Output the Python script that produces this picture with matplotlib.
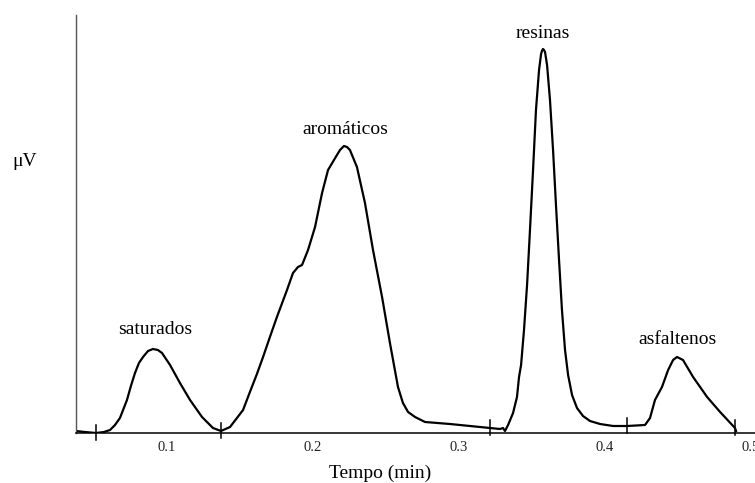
import matplotlib
matplotlib.use("Agg")
import matplotlib.pyplot as plt

plt.rcParams['font.family'] = ['Liberation Serif', 'DejaVu Serif']

# chromatogram trace: time (min) and signal (arbitrary uV units)
tempo = [0.0377, 0.0438, 0.0514, 0.0568, 0.0610, 0.0644, 0.0678, 0.0726, 0.0753,
         0.0781, 0.0808, 0.0836, 0.0870, 0.0904, 0.0938, 0.0966, 0.1021, 0.1089,
         0.1158, 0.1240, 0.1315, 0.1370, 0.1432, 0.1521, 0.1568, 0.1616, 0.1658,
         0.1705, 0.1753, 0.1822, 0.1863, 0.1897, 0.1925, 0.1966, 0.2014, 0.2062,
         0.2103, 0.2164, 0.2185, 0.2212, 0.2233, 0.2253, 0.2301, 0.2356, 0.2411,
         0.2473, 0.2527, 0.2582, 0.2616, 0.2651, 0.2699, 0.2767, 0.2938, 0.3075,
         0.3212, 0.3281, 0.3301, 0.3315, 0.3336, 0.3370, 0.3397, 0.3411, 0.3425,
         0.3445, 0.3466, 0.3486, 0.3507, 0.3527, 0.3548, 0.3562, 0.3568, 0.3575,
         0.3582, 0.3589, 0.3603, 0.3623, 0.3644, 0.3664, 0.3685, 0.3705, 0.3726,
         0.3747, 0.3774, 0.3808, 0.3849, 0.3897, 0.3966, 0.4055, 0.4151, 0.4274,
         0.4308, 0.4342, 0.4390, 0.4432, 0.4466, 0.4493, 0.4534, 0.4603, 0.4699,
         0.4788, 0.4890, 0.4897]
sinal = [2, 1, 0, 1, 3, 8, 15, 33, 47,
         60, 70, 76, 82, 84, 83, 80, 68, 50,
         33, 16, 5, 2, 6, 23, 41, 59, 76,
         96, 116, 143, 160, 166, 168, 183, 206, 240,
         263, 278, 283, 287, 286, 283, 266, 230, 183,
         136, 90, 46, 30, 21, 16, 11, 9, 7,
         5, 4, 5, 2, 8, 20, 36, 56, 68,
         103, 148, 203, 263, 323, 363, 379, 382, 384,
         383, 381, 368, 333, 283, 228, 173, 123, 83,
         58, 38, 25, 17, 12, 9, 7, 7, 8,
         15, 33, 46, 63, 73, 76, 73, 56, 36,
         21, 5, 2]

# integration marks (valleys between fractions)
vales_t = [0.0514, 0.1370, 0.3212, 0.4151, 0.4890]
vales_v = [0, 2, 5, 7, 5]

# fraction labels
fracoes = ['saturados', 'aromáticos', 'resinas', 'asfaltenos']
fracoes_t = [0.0918, 0.2219, 0.3575, 0.4493]
fracoes_v = [103, 303, 400, 93]

xticks = [0.1, 0.2, 0.3, 0.4, 0.5]

fig = plt.figure(figsize=(7.55, 4.83), dpi=100)
ax = fig.add_axes([76/755, 1-433/483, 679/755, 418/483])

ax.plot(tempo, sinal, color='black', lw=1.6, solid_joinstyle='round')

for t, v in zip(vales_t, vales_v):
    ax.plot([t, t], [v - 7, v + 8], color='black', lw=1.1, clip_on=False)

for nome, t, v in zip(fracoes, fracoes_t, fracoes_v):
    ax.text(t, v, nome, ha='center', va='center', fontsize=14)

ax.set_xlim(0.0377, 0.5027)
ax.set_ylim(0, 418)
ax.set_xticks(xticks)
ax.set_xticklabels([str(x) for x in xticks], fontsize=10.5, color='#222222')
ax.tick_params(axis='x', length=0, pad=6)
ax.set_yticks([])

ax.spines['top'].set_visible(False)
ax.spines['right'].set_visible(False)
ax.spines['left'].set_color('#555555')
ax.spines['left'].set_linewidth(1.0)
ax.spines['bottom'].set_linewidth(1.1)

fig.text(25/755, 1-162/483, 'μV', ha='center', va='center', fontsize=14)
fig.text(380/755, 1-473/483, 'Tempo (min)', ha='center', va='center', fontsize=14)

fig.savefig('out.png', dpi=100)
